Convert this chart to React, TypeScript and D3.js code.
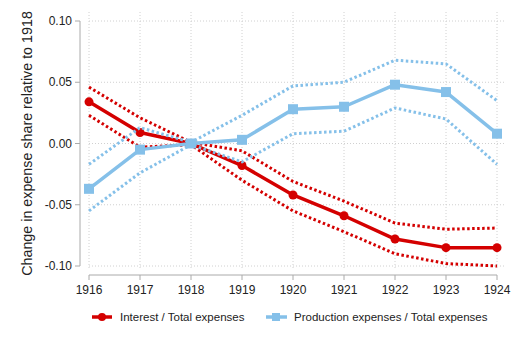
import React from "react";
import * as d3 from "d3";

const years = [1916, 1917, 1918, 1919, 1920, 1921, 1922, 1923, 1924];
const yTicks = [-0.1, -0.05, 0, 0.05, 0.1];

// interest / total expenses
const interest = [0.034, 0.009, 0, -0.018, -0.042, -0.059, -0.078, -0.085, -0.085];
const interestHi = [0.046, 0.021, 0.001, -0.006, -0.031, -0.047, -0.065, -0.07, -0.069];
const interestLo = [0.023, -0.003, -0.001, -0.03, -0.055, -0.072, -0.09, -0.098, -0.1];

// production expenses / total expenses
const production = [-0.037, -0.005, 0, 0.003, 0.028, 0.03, 0.048, 0.042, 0.008];
const productionHi = [-0.017, 0.013, 0.001, 0.023, 0.047, 0.05, 0.068, 0.065, 0.035];
const productionLo = [-0.055, -0.024, -0.001, -0.015, 0.008, 0.01, 0.029, 0.02, -0.017];

const RED = "#d40000";
const BLUE = "#85c0e9";

const W = 518;
const H = 346;
const font = "Liberation Sans, Arial, sans-serif";

export default function App() {
  const x = d3.scaleLinear().domain([1916, 1924]).range([89, 497]);
  const y = d3.scaleLinear().domain([-0.1, 0.1]).range([266, 21]);

  const line = d3
    .line<number>()
    .x((_, i) => x(years[i]))
    .y((d) => y(d));

  const series = [
    { main: interest, hi: interestHi, lo: interestLo, color: RED, marker: "circle" },
    { main: production, hi: productionHi, lo: productionLo, color: BLUE, marker: "square" },
  ];

  return (
    <svg width={W} height={H} style={{ position: "absolute", left: 0, top: 0, background: "#fff" }}>
      {/* grid */}
      {yTicks.map((t) => (
        <line key={"gy" + t} x1={89} x2={505} y1={y(t)} y2={y(t)} stroke="#d0d0d0" strokeWidth={1} strokeDasharray="1,2" />
      ))}
      {years.map((yr) => (
        <line key={"gx" + yr} x1={x(yr)} x2={x(yr)} y1={12} y2={268} stroke="#d0d0d0" strokeWidth={1} strokeDasharray="1,2" />
      ))}

      {/* axes */}
      <line x1={80} x2={80} y1={y(0.1)} y2={y(-0.1)} stroke="#aaa" strokeWidth={1} />
      {yTicks.map((t) => (
        <g key={"yt" + t}>
          <line x1={75} x2={80} y1={y(t)} y2={y(t)} stroke="#aaa" />
          <text x={72} y={y(t)} dy="0.35em" textAnchor="end" fontSize={12} fontFamily={font} fill="#222">
            {d3.format(".2f")(t).replace("−", "-")}
          </text>
        </g>
      ))}
      <line x1={x(1916)} x2={x(1924)} y1={275} y2={275} stroke="#aaa" strokeWidth={1} />
      {years.map((yr) => (
        <g key={"xt" + yr}>
          <line x1={x(yr)} x2={x(yr)} y1={275} y2={280} stroke="#aaa" />
          <text x={x(yr)} y={294} textAnchor="middle" fontSize={12} fontFamily={font} fill="#222">
            {yr}
          </text>
        </g>
      ))}
      <text
        transform={`translate(32,${y(0)}) rotate(-90)`}
        textAnchor="middle"
        fontSize={14.3}
        fontFamily={font}
        fill="#222"
      >
        Change in expense share relative to 1918
      </text>

      {/* series */}
      {series.map((s, k) => (
        <g key={"s" + k}>
          <path d={line(s.hi) || ""} fill="none" stroke={s.color} strokeWidth={3} strokeDasharray="2.5,2.5" />
          <path d={line(s.lo) || ""} fill="none" stroke={s.color} strokeWidth={3} strokeDasharray="2.5,2.5" />
          <path d={line(s.main) || ""} fill="none" stroke={s.color} strokeWidth={3.5} strokeLinejoin="round" />
          {s.main.map((v, i) =>
            s.marker === "circle" ? (
              <circle key={i} cx={x(years[i])} cy={y(v)} r={4.5} fill={s.color} />
            ) : (
              <rect key={i} x={x(years[i]) - 5} y={y(v) - 5} width={10} height={10} fill={s.color} />
            )
          )}
        </g>
      ))}

      {/* legend */}
      <g fontFamily={font} fontSize={11.5} fill="#222">
        <line x1={92} x2={112} y1={317} y2={317} stroke={RED} strokeWidth={3.5} />
        <circle cx={102} cy={317} r={4} fill={RED} />
        <text x={120} y={317} dy="0.35em">Interest / Total expenses</text>
        <line x1={266} x2={287} y1={317} y2={317} stroke={BLUE} strokeWidth={3.5} />
        <rect x={272} y={313} width={8} height={8} fill={BLUE} />
        <text x={294} y={317} dy="0.35em">Production expenses / Total expenses</text>
      </g>
    </svg>
  );
}
